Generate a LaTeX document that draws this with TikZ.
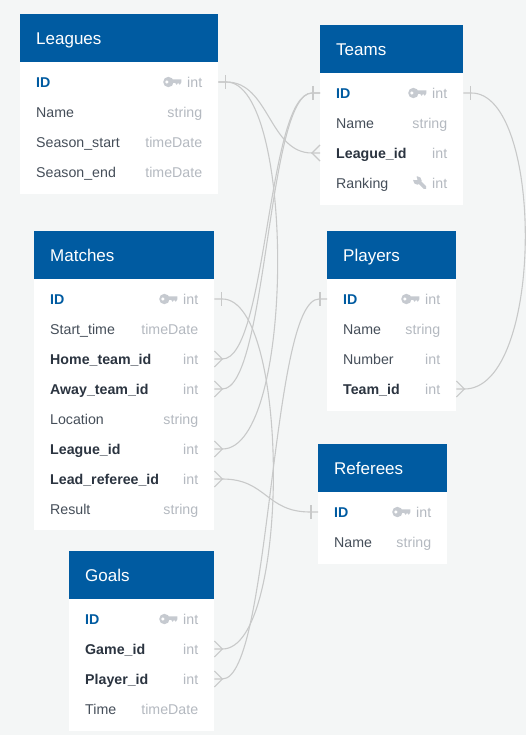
\documentclass[tikz,border=0pt]{standalone}
\usepackage{fontspec}
\setmainfont{Liberation Sans}
\usetikzlibrary{calc}
\definecolor{pagebg}{HTML}{F4F6F6}
\definecolor{headblue}{HTML}{005BA1}
\definecolor{idcol}{HTML}{005BA1}
\definecolor{boldcol}{HTML}{2B3440}
\definecolor{plaincol}{HTML}{454E59}
\definecolor{typecol}{HTML}{B4B9C0}
\definecolor{iconcol}{HTML}{C6CAD0}
\definecolor{linkcol}{HTML}{C8C9C9}
\tikzset{
  tablehead/.style={anchor=north west,fill=headblue,text=white,minimum height=48pt,inner xsep=16pt,inner ysep=0pt,font=\fontsize{17}{18}\selectfont},
  tablebody/.style={anchor=north west,fill=white,inner sep=0pt},
  fieldrow/.style={anchor=west,minimum height=30pt,inner xsep=16pt,inner ysep=0pt,font=\fontsize{14.2}{16}\selectfont},
  link/.style={draw=linkcol,line width=1.1pt},
  endmark/.style={draw=linkcol,line width=1.1pt}
}
% table: id, x, y, width, total height, title
\newcommand{\tbl}[6]{%
  \node[tablebody,minimum width=#4pt,minimum height=#5pt] (#1Body) at (#2,#3) {};
  \node[tablehead,minimum width=#4pt] (#1Head) at (#2,#3) {\makebox[\dimexpr#4pt-32pt][l]{\raisebox{0pt}[15pt][2.2pt]{#6}}};
}
% row: name, x, y, width, label, type
\newcommand{\frow}[6]{%
  \node[fieldrow,minimum width=#4pt] (#1) at (#2,#3) {\makebox[\dimexpr#4pt-32pt][l]{\raisebox{0pt}[13pt][2.6pt]{#5}\hfill\raisebox{0pt}[13pt][2.6pt]{\textcolor{typecol}{#6}}}};
}
\newcommand{\idt}[1]{\textcolor{idcol}{\textbf{#1}}}
\newcommand{\bdt}[1]{\textcolor{boldcol}{\textbf{#1}}}
\newcommand{\plt}[1]{\textcolor{plaincol}{#1}}
\newcommand{\keyicon}[1]{%
  \begin{scope}[shift={(#1.east)}]
    \fill[iconcol] (-50,0) circle (5.2);
    \fill[iconcol] (-47,-2.6) -- (-37,-2.6) -- (-37,0.2) -- (-38.6,2.8) -- (-40.2,0.9) -- (-41.8,2.8) -- (-43.2,0.9) -- (-47,0.9) -- cycle;
    \fill[white] (-51.5,0) circle (1.7);
  \end{scope}}
\newcommand{\wrenchicon}[1]{%
  \begin{scope}[shift={(#1.east)}]
    \draw[iconcol,line width=3.6pt,line cap=round] (-45,-2) -- (-38.5,4.5);
    \fill[iconcol] (-46,-2.5) circle (4.2);
    \fill[white] (-51,-6.8) -- (-47,-6.8) -- (-46,-3) -- (-50,-3) -- cycle;
  \end{scope}}
% marks: second argument +1 when the line leaves to the right, -1 to the left
\newcommand{\barmark}[2]{\draw[endmark] ($(#1)+(#2*7,-7)$) -- ($(#1)+(#2*7,7)$);}
\newcommand{\crow}[2]{\draw[endmark] ($(#1)+(0,-8)$) -- ($(#1)+(#2*8,0)$) -- ($(#1)+(0,8)$);}
% curve: from, to, stub at from, stub at to, control offset at from, control offset at to
\newcommand{\curve}[6]{\draw[link] (#1) -- ($(#1)+(#3,0)$) .. controls ($(#1)+(#3+#5,0)$) and ($(#2)+(#4+#6,0)$) .. ($(#2)+(#4,0)$) -- (#2);}
\begin{document}
\begin{tikzpicture}[x=1pt,y=-1pt]
\useasboundingbox (0,0) rectangle (526,735);
\fill[pagebg] (0,0) rectangle (526,735);

\tbl{lg}{20}{14}{198}{180}{Leagues}
\frow{lgID}{20}{82}{198}{\idt{ID}}{int}
\frow{lgName}{20}{112}{198}{\plt{Name}}{string}
\frow{lgStart}{20}{142}{198}{\plt{Season\_start}}{timeDate}
\frow{lgEnd}{20}{172}{198}{\plt{Season\_end}}{timeDate}

\tbl{tm}{320}{25}{143}{180}{Teams}
\frow{tmID}{320}{93}{143}{\idt{ID}}{int}
\frow{tmName}{320}{123}{143}{\plt{Name}}{string}
\frow{tmLeague}{320}{153}{143}{\bdt{League\_id}}{int}
\frow{tmRank}{320}{183}{143}{\plt{Ranking}}{int}

\tbl{mt}{34}{231}{180}{299}{Matches}
\frow{mtID}{34}{299}{180}{\idt{ID}}{int}
\frow{mtStart}{34}{329}{180}{\plt{Start\_time}}{timeDate}
\frow{mtHome}{34}{359}{180}{\bdt{Home\_team\_id}}{int}
\frow{mtAway}{34}{389}{180}{\bdt{Away\_team\_id}}{int}
\frow{mtLoc}{34}{419}{180}{\plt{Location}}{string}
\frow{mtLeague}{34}{449}{180}{\bdt{League\_id}}{int}
\frow{mtRef}{34}{479}{180}{\bdt{Lead\_referee\_id}}{int}
\frow{mtResult}{34}{509}{180}{\plt{Result}}{string}

\tbl{pl}{327}{231}{129}{180}{Players}
\frow{plID}{327}{299}{129}{\idt{ID}}{int}
\frow{plName}{327}{329}{129}{\plt{Name}}{string}
\frow{plNum}{327}{359}{129}{\plt{Number}}{int}
\frow{plTeam}{327}{389}{129}{\bdt{Team\_id}}{int}

\tbl{rf}{318}{444}{129}{120}{Referees}
\frow{rfID}{318}{512}{129}{\idt{ID}}{int}
\frow{rfName}{318}{542}{129}{\plt{Name}}{string}

\tbl{gl}{69}{551}{145}{180}{Goals}
\frow{glID}{69}{619}{145}{\idt{ID}}{int}
\frow{glGame}{69}{649}{145}{\bdt{Game\_id}}{int}
\frow{glPlayer}{69}{679}{145}{\bdt{Player\_id}}{int}
\frow{glTime}{69}{709}{145}{\plt{Time}}{timeDate}

\keyicon{lgID}\keyicon{tmID}\keyicon{mtID}\keyicon{plID}\keyicon{rfID}\keyicon{glID}
\wrenchicon{tmRank}

\curve{lgID.east}{tmLeague.west}{8}{-8}{43}{-43}
\curve{lgID.east}{mtLeague.east}{8}{8}{69}{73}
\curve{tmID.west}{mtHome.east}{-8}{8}{-45}{45}
\curve{tmID.west}{mtAway.east}{-8}{8}{-45}{45}
\curve{tmID.east}{plTeam.east}{8}{8}{73}{80}
\curve{plID.west}{glPlayer.east}{-8}{8}{-48.5}{48.5}
\curve{mtID.east}{glGame.east}{8}{8}{68}{68}
\curve{mtRef.east}{rfID.west}{8}{-8}{44}{-44}

\barmark{lgID.east}{1}
\barmark{tmID.west}{-1}
\barmark{tmID.east}{1}
\barmark{plID.west}{-1}
\barmark{mtID.east}{1}
\barmark{rfID.west}{-1}
\crow{tmLeague.west}{-1}
\crow{mtHome.east}{1}
\crow{mtAway.east}{1}
\crow{mtLeague.east}{1}
\crow{mtRef.east}{1}
\crow{plTeam.east}{1}
\crow{glGame.east}{1}
\crow{glPlayer.east}{1}
\end{tikzpicture}
\end{document}
